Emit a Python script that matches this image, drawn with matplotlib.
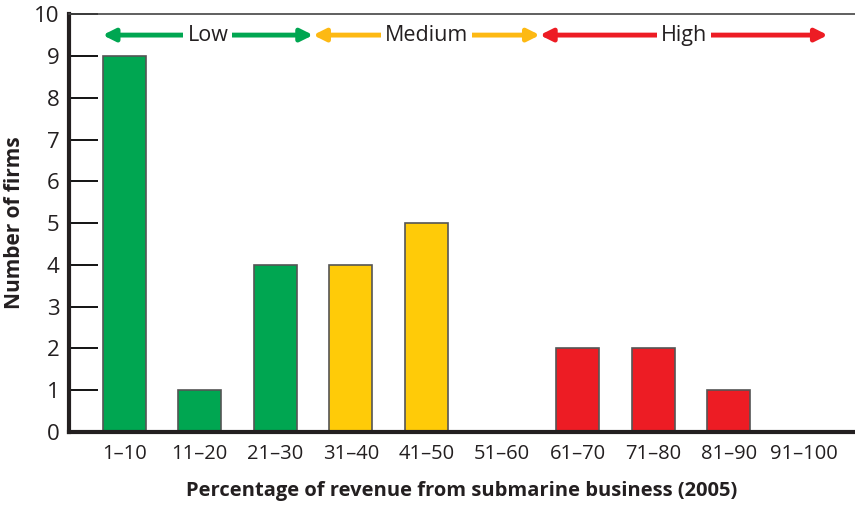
import matplotlib
matplotlib.use('Agg')
import matplotlib.pyplot as plt
import numpy as np

# --- Data ---
categories = ['1–10', '11–20', '21–30', '31–40', '41–50',
              '51–60', '61–70', '71–80', '81–90', '91–100']
firms = [9, 1, 4, 4, 5, 0, 2, 2, 1, 0]
groups = ['low', 'low', 'low', 'medium', 'medium',
          'medium', 'high', 'high', 'high', 'high']

# band labels and their spans (in category units)
band_names = ['Low', 'Medium', 'High']
band_spans = [(-0.285, 2.5), (2.5, 5.5), (5.5, 9.31)]

bar_colors = {'low': '#00A651', 'medium': '#FFCB08', 'high': '#ED1C24'}
arrow_colors = ['#00A651', '#FDB913', '#ED1C24']

plt.rcParams['font.family'] = ['Open Sans', 'DejaVu Sans']

fig = plt.figure(figsize=(8.55, 5.07), dpi=100)
ax = fig.add_axes([0.0807, 0.148, 0.9193, 0.824])

x = np.arange(len(categories))
ax.bar(x, firms, width=0.57, color=[bar_colors[g] for g in groups],
       edgecolor='#555555', linewidth=1.2, zorder=2)

ax.set_xlim(-0.73, 9.67)
ax.set_ylim(0, 10)
ax.set_yticks(range(0, 11))
ax.set_xticks(x)
ax.set_xticklabels(categories, fontsize=14.5, color='#231F20')
ax.tick_params(axis='y', direction='in', length=21, width=1.3,
               labelsize=16, labelcolor='#231F20', pad=7)
ax.tick_params(axis='x', length=0, pad=9)

for s in ['left', 'bottom']:
    ax.spines[s].set_linewidth(3)
    ax.spines[s].set_color('#231F20')
ax.spines['top'].set_linewidth(1.2)
ax.spines['top'].set_color('#444444')
ax.spines['right'].set_visible(False)

ax.set_xlabel('Percentage of revenue from submarine business (2005)',
              fontsize=14.5, fontweight='bold', color='#231F20', labelpad=12)
ax.set_ylabel('Number of firms', fontsize=15, fontweight='bold',
              color='#231F20', labelpad=6)

# band arrows
for name, (x0, x1), c in zip(band_names, band_spans, arrow_colors):
    ax.annotate('', xy=(x0, 9.5), xytext=(x1, 9.5),
                arrowprops=dict(arrowstyle='<|-|>', color=c, lw=3.5,
                                mutation_scale=18, shrinkA=0, shrinkB=0),
                zorder=3)
    ax.text((x0 + x1) / 2, 9.5, name, ha='center', va='center',
            fontsize=15.5, color='#231F20', zorder=4,
            bbox=dict(facecolor='white', edgecolor='none', pad=3))

plt.savefig('out.png', dpi=100)
